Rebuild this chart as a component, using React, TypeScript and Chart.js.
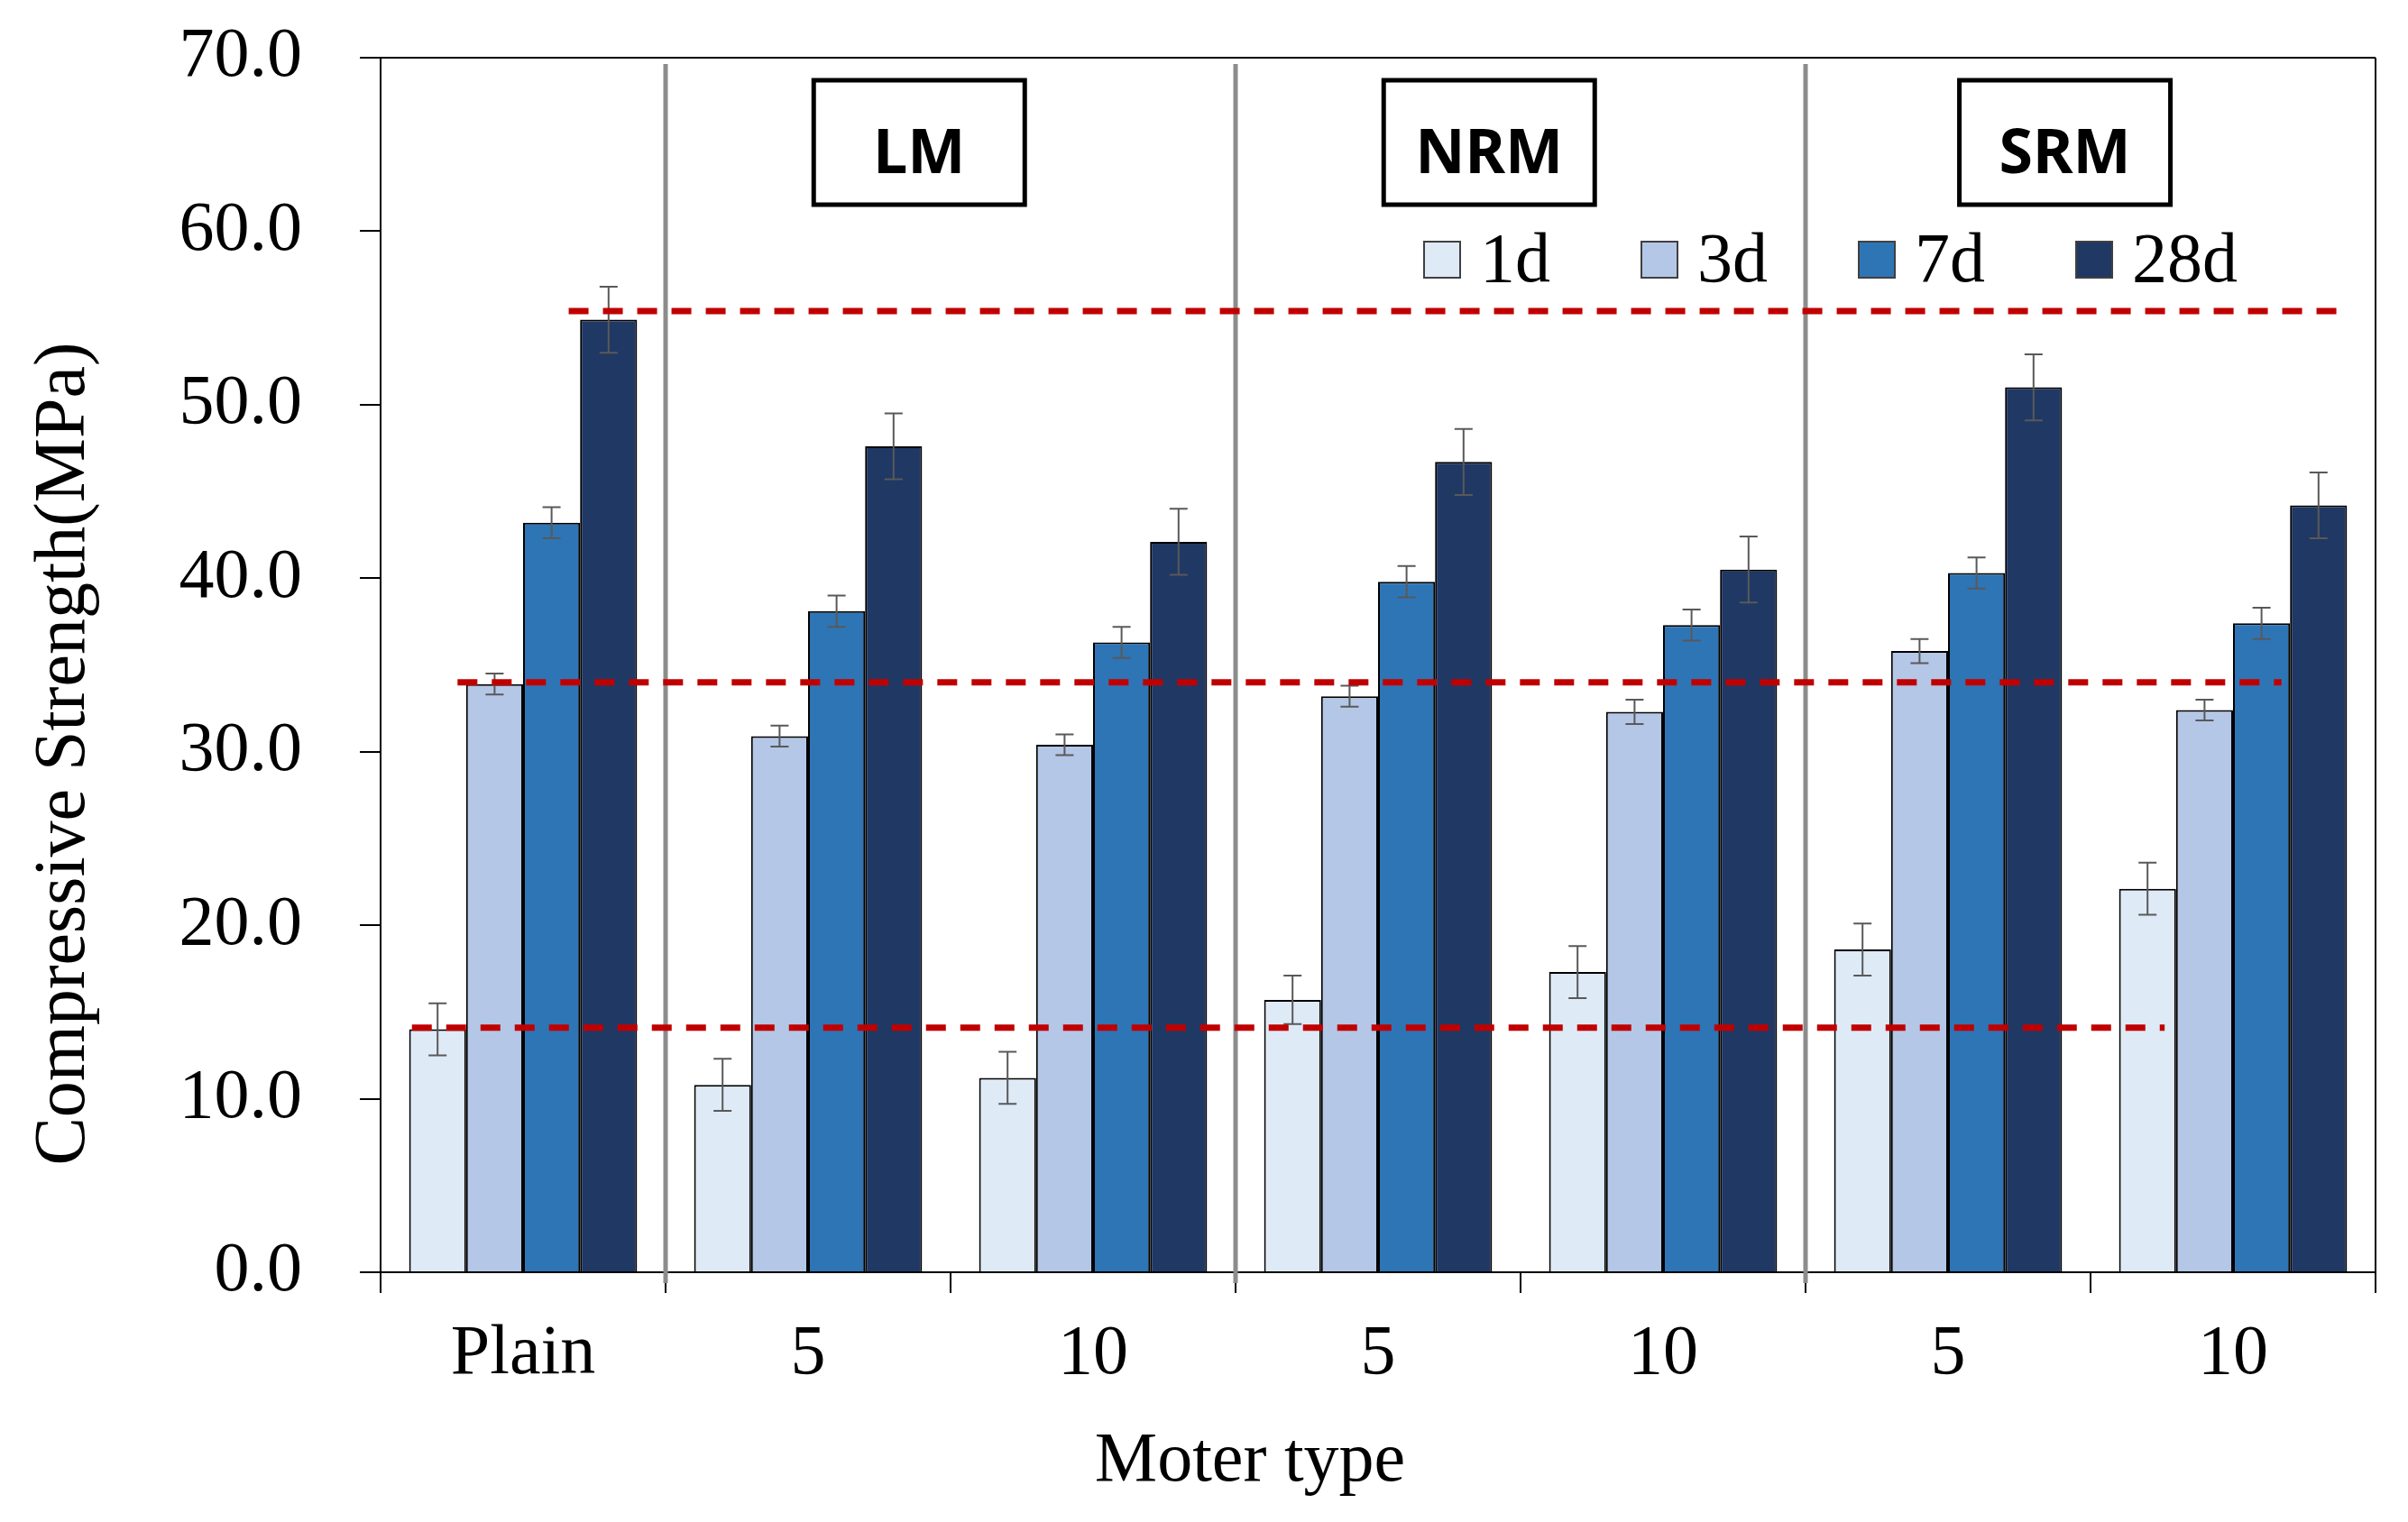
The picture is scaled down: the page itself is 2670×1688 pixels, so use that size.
import React, { useEffect, useRef } from 'react';
import { Chart, registerables } from 'chart.js';

Chart.register(...registerables);

// ---- data ----
const categories = ['Plain', '5', '10', '5', '10', '5', '10'];
const seriesLabels = ['1d', '3d', '7d', '28d'];
const strength1d = [14.0, 10.8, 11.2, 15.7, 17.3, 18.6, 22.1];
const strength3d = [33.9, 30.9, 30.4, 33.2, 32.3, 35.8, 32.4];
const strength7d = [43.2, 38.1, 36.3, 39.8, 37.3, 40.3, 37.4];
const strength28d = [54.9, 47.6, 42.1, 46.7, 40.5, 51.0, 44.2];
const error1d = [1.5, 1.5, 1.5, 1.4, 1.5, 1.5, 1.5];
const error3d = [0.6, 0.6, 0.6, 0.6, 0.7, 0.7, 0.6];
const error7d = [0.9, 0.9, 0.9, 0.9, 0.9, 0.9, 0.9];
const error28d = [1.9, 1.9, 1.9, 1.9, 1.9, 1.9, 1.9];
const groupLabels = ['LM', 'NRM', 'SRM'];
const refLineValues = [55.4, 34.0, 14.1];
const yMin = 0;
const yMax = 70;
const yStep = 10;
const xTitle = 'Moter type';
const yTitle = 'Compressive Strength(MPa)';

// ---- style ----
const W = 2670;
const H = 1688;
const SERIF = "'Times New Roman', 'Liberation Serif', serif";
const SANS = "'Noto Sans', 'Open Sans', sans-serif";
const seriesColors = ['#DEEAF6', '#B4C7E7', '#2E75B6', '#203864'];
const refSpan = [
  [0.16, 6.37],
  [-0.23, 6.17],
  [-0.39, 5.76],
];
const separatorAt = [0.5, 2.5, 4.5];
const groupCenterAt = [1.39, 3.39, 5.41];

const values = [strength1d, strength3d, strength7d, strength28d];
const errors = [error1d, error3d, error7d, error28d];

const overlayPlugin = {
  id: 'overlay',
  beforeDatasetsDraw(chart: any) {
    const ctx = chart.ctx;
    const { top, bottom, left, right } = chart.chartArea;
    const xs = chart.scales.x;
    ctx.save();
    // frame (top & right)
    ctx.strokeStyle = '#000';
    ctx.lineWidth = 2;
    ctx.beginPath();
    ctx.moveTo(left, top);
    ctx.lineTo(right, top);
    ctx.moveTo(right, top);
    ctx.lineTo(right, bottom);
    ctx.stroke();
    // gray separators
    ctx.strokeStyle = '#8C8C8C';
    ctx.lineWidth = 5;
    separatorAt.forEach((v) => {
      const x = xs.getPixelForValue(v);
      ctx.beginPath();
      ctx.moveTo(x, top + 7);
      ctx.lineTo(x, bottom + 12);
      ctx.stroke();
    });
    ctx.restore();
  },
  afterDatasetsDraw(chart: any) {
    const ctx = chart.ctx;
    const { top } = chart.chartArea;
    const xs = chart.scales.x;
    const ys = chart.scales.y;
    ctx.save();
    // error bars
    ctx.strokeStyle = '#595959';
    ctx.lineWidth = 2;
    chart.data.datasets.forEach((ds: any, i: number) => {
      const meta = chart.getDatasetMeta(i);
      meta.data.forEach((bar: any, j: number) => {
        const v = ds.data[j];
        const e = errors[i][j];
        const x = bar.x;
        const y1 = ys.getPixelForValue(v + e);
        const y2 = ys.getPixelForValue(v - e);
        ctx.beginPath();
        ctx.moveTo(x, y1);
        ctx.lineTo(x, y2);
        ctx.moveTo(x - 10, y1);
        ctx.lineTo(x + 10, y1);
        ctx.moveTo(x - 10, y2);
        ctx.lineTo(x + 10, y2);
        ctx.stroke();
      });
    });
    // red dashed reference lines
    ctx.strokeStyle = '#C00000';
    ctx.lineWidth = 7;
    ctx.setLineDash([22, 16]);
    refLineValues.forEach((v, k) => {
      const y = ys.getPixelForValue(v);
      ctx.beginPath();
      ctx.moveTo(xs.getPixelForValue(refSpan[k][0]), y);
      ctx.lineTo(xs.getPixelForValue(refSpan[k][1]), y);
      ctx.stroke();
    });
    ctx.setLineDash([]);
    // group label boxes
    groupLabels.forEach((g, k) => {
      const cx = xs.getPixelForValue(groupCenterAt[k]);
      const bw = 234;
      const bh = 138;
      const by = top + 25;
      ctx.fillStyle = '#fff';
      ctx.fillRect(cx - bw / 2, by, bw, bh);
      ctx.strokeStyle = '#000';
      ctx.lineWidth = 5;
      ctx.strokeRect(cx - bw / 2, by, bw, bh);
      ctx.fillStyle = '#000';
      ctx.font = `bold 68px ${SANS}`;
      ctx.textAlign = 'center';
      ctx.textBaseline = 'alphabetic';
      ctx.fillText(g, cx, by + 103);
    });
    // legend
    chart.data.datasets.forEach((ds: any, i: number) => {
      const bx = 1579 + i * 241;
      const byy = 268;
      ctx.fillStyle = ds.backgroundColor;
      ctx.fillRect(bx, byy, 40, 40);
      ctx.strokeStyle = '#404040';
      ctx.lineWidth = 2;
      ctx.strokeRect(bx, byy, 40, 40);
      ctx.fillStyle = '#000';
      ctx.font = `78px ${SERIF}`;
      ctx.textAlign = 'left';
      ctx.textBaseline = 'alphabetic';
      ctx.fillText(ds.label, bx + 62, 312);
    });
    // axis titles
    ctx.fillStyle = '#000';
    ctx.font = `78px ${SERIF}`;
    ctx.textAlign = 'center';
    ctx.textBaseline = 'alphabetic';
    ctx.fillText(xTitle, 1386, 1642);
    ctx.save();
    ctx.translate(93, 836);
    ctx.rotate(-Math.PI / 2);
    ctx.font = `80px ${SERIF}`;
    ctx.fillText(yTitle, 0, 0);
    ctx.restore();
    ctx.restore();
  },
};

export default function App() {
  const ref = useRef<HTMLCanvasElement | null>(null);
  useEffect(() => {
    if (!ref.current) return;
    const chart = new Chart(ref.current, {
      type: 'bar',
      data: {
        labels: categories,
        datasets: seriesLabels.map((label, i) => ({
          label,
          data: values[i],
          backgroundColor: seriesColors[i],
          borderColor: '#000',
          borderWidth: 2,
          categoryPercentage: 0.8,
          barPercentage: 1.0,
        })),
      },
      options: {
        responsive: false,
        animation: false,
        devicePixelRatio: 1,
        layout: { padding: { top: 64, right: 36, left: 0, bottom: 0 } },
        plugins: {
          legend: { display: false },
          title: { display: false },
          tooltip: { enabled: false },
        },
        scales: {
          x: {
            grid: {
              offset: true,
              drawOnChartArea: false,
              drawTicks: true,
              tickLength: 23,
              color: '#000',
              lineWidth: 2,
            },
            border: { display: true, color: '#000', width: 2 },
            ticks: {
              color: '#000',
              font: { family: SERIF, size: 78 },
              padding: 22,
              maxRotation: 0,
              autoSkip: false,
            },
            afterFit: (s: any) => {
              s.height = H - 1411;
              s.paddingLeft = 0;
              s.paddingRight = 0;
            },
          },
          y: {
            min: yMin,
            max: yMax,
            grid: {
              drawOnChartArea: false,
              drawTicks: true,
              tickLength: 23,
              color: '#000',
              lineWidth: 2,
            },
            border: { display: true, color: '#000', width: 2 },
            ticks: {
              stepSize: yStep,
              color: '#000',
              font: { family: SERIF, size: 78 },
              padding: 64,
              callback: (v: any) => Number(v).toFixed(1),
            },
            afterFit: (s: any) => {
              s.width = 422;
              s.paddingTop = 0;
              s.paddingBottom = 0;
            },
          },
        },
      },
      plugins: [overlayPlugin],
    } as any);
    return () => chart.destroy();
  }, []);
  return (
    <div style={{ position: 'absolute', left: 0, top: 0, width: W, height: H, background: '#fff' }}>
      <canvas ref={ref} width={W} height={H} style={{ width: W, height: H, display: 'block' }} />
    </div>
  );
}
